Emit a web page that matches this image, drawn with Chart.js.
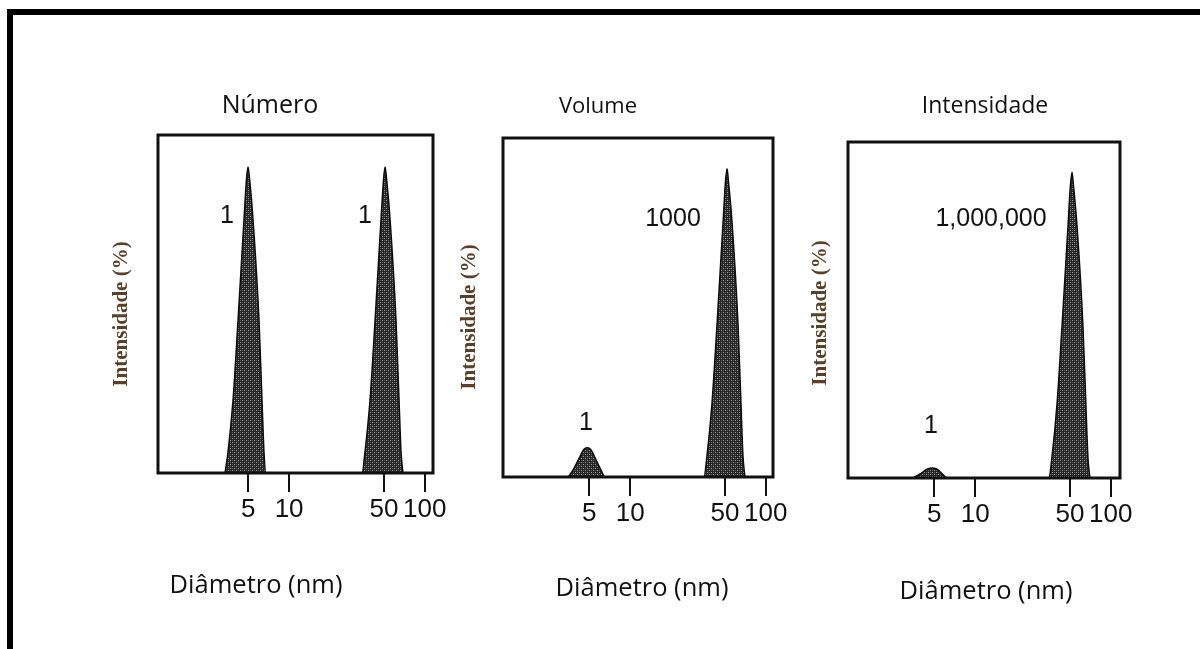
<!DOCTYPE html>
<html>
<head>
<meta charset="utf-8">
<script src="https://cdn.jsdelivr.net/npm/chart.js@4.4.1/dist/chart.umd.min.js"></script>
<style>
html, body { margin: 0; padding: 0; background: #fff; }
body { width: 1200px; height: 649px; position: relative; overflow: hidden; }
#frame { position: absolute; left: 7px; top: 9px; width: 1300px; height: 800px;
  border-top: 6px solid #000; border-left: 6px solid #000; box-sizing: border-box; }
canvas { position: absolute; top: 0; }
</style>
</head>
<body>
<div id="frame"></div>
<canvas id="c1"></canvas>
<canvas id="c2"></canvas>
<canvas id="c3"></canvas>
<script>
// tick labels on the diameter axis
const tickValues = [5, 10, 50, 100];
const panelTitles = ['Número', 'Volume', 'Intensidade'];
const yTitle = 'Intensidade (%)';
const xTitle = 'Diâmetro (nm)';

// Número: two equal peaks (5 nm and 50 nm)
const numDiam = [3.37, 3.54, 3.86, 4.20, 4.65, 4.85, 4.98, 5.11, 5.42, 6.00, 6.31, 6.53, 6.75,
                 34.5, 36.2, 39.5, 43.0, 47.6, 49.7, 51.0, 52.3, 55.5, 61.4, 64.6, 66.9, 69.1];
const numPct  = [0, 6, 21.6, 45, 75, 87, 90.5, 87, 75, 45, 21.6, 6, 0,
                 0, 6, 21.6, 45, 75, 87, 90.5, 87, 75, 45, 21.6, 6, 0];
const numNotes = ['1', '1'];

// Volume
const volDiam = [3.48, 3.79, 4.20, 4.57, 4.81, 5.15, 5.61, 6.10, 6.53,
                 35.0, 36.8, 40.1, 43.7, 48.4, 50.4, 51.8, 53.1, 56.4, 62.4, 65.6, 67.9, 70.2];
const volPct  = [0, 2, 5.5, 8.2, 8.6, 8, 5, 2, 0,
                 0, 6, 21.6, 45, 75, 87, 90.9, 87, 75, 45, 21.6, 6, 0];
const volNotes = ['1', '1000'];

// Intensidade
const intDiam = [3.48, 3.92, 4.42, 4.81, 5.24, 5.80, 6.21,
                 35.0, 36.8, 40.1, 43.7, 48.4, 50.4, 51.8, 53.1, 56.4, 62.4, 65.6, 67.9, 70.2];
const intPct  = [0, 1.2, 2.6, 3.0, 2.6, 1.0, 0,
                 0, 6, 21.6, 45, 75, 87, 91, 87, 75, 45, 21.6, 6, 0];
const intNotes = ['1', '1,000,000'];

const numFont = "'Liberation Sans', Arial, sans-serif";
const textFont = "'Open Sans', 'Noto Sans', sans-serif";

function stipple() {
    const c = document.createElement('canvas');
    c.width = 4; c.height = 4;
    const g = c.getContext('2d');
    g.fillStyle = '#262626'; g.fillRect(0, 0, 4, 4);
    g.fillStyle = '#9c9c9c'; g.fillRect(0, 0, 1, 1); g.fillRect(2, 2, 1, 1);
    g.fillStyle = '#5e5e5e'; g.fillRect(2, 0, 1, 1); g.fillRect(0, 2, 1, 1);
    return g.createPattern(c, 'repeat');
}
const fillPattern = stipple();

const panels = [
    { id: 'c1', title: panelTitles[0], titleSize: 25, titleX: 270, xTitleX: 256, xTitleY: 593,
      yTitleX: 122, yTitleY: 314, box: { l: 158, t: 135, r: 433, b: 473 }, xMin: 1.08, xMax: 115,
      diam: numDiam, pct: numPct,
      notes: [{ text: numNotes[0], x: 3.48, y: 76 }, { text: numNotes[1], x: 36.3, y: 76 }] },
    { id: 'c2', title: panelTitles[1], titleSize: 22, titleX: 598, xTitleX: 642, xTitleY: 596,
      yTitleX: 470, yTitleY: 317, box: { l: 503, t: 138, r: 773, b: 477 }, xMin: 1.155, xMax: 113,
      diam: volDiam, pct: volPct,
      notes: [{ text: volNotes[0], x: 4.73, y: 16 }, { text: volNotes[1], x: 20.7, y: 76 }] },
    { id: 'c3', title: panelTitles[2], titleSize: 23, titleX: 985, xTitleX: 986, xTitleY: 599,
      yTitleX: 821, yTitleY: 313, box: { l: 848, t: 142, r: 1120, b: 478 }, xMin: 1.155, xMax: 117,
      diam: intDiam, pct: intPct,
      notes: [{ text: intNotes[0], x: 4.73, y: 15.5 }, { text: intNotes[1], x: 13.1, y: 77 }] }
];

const LEFT_W = 80, RIGHT_PAD = 40, H = 649;

const boxPlugin = {
    id: 'boxAndText',
    afterDatasetsDraw(chart) {
        const a = chart.chartArea;
        const ctx = chart.ctx;
        ctx.save();
        ctx.strokeStyle = '#111';
        ctx.lineWidth = 3;
        ctx.strokeRect(a.left, a.top, a.right - a.left, a.bottom - a.top);
        ctx.restore();
    },
    afterDraw(chart) {
        const p = chart.options.plugins.boxAndText.panel;
        const off = p.box.l - LEFT_W;
        const ctx = chart.ctx;
        const xs = chart.scales.x, ys = chart.scales.y;
        ctx.save();
        ctx.fillStyle = '#111';
        ctx.textAlign = 'center';
        ctx.textBaseline = 'alphabetic';
        ctx.font = p.titleSize + 'px ' + textFont;
        ctx.fillText(p.title, p.titleX - off, 113);
        ctx.font = '25.5px ' + textFont;
        ctx.fillText(xTitle, p.xTitleX - off, p.xTitleY);

        ctx.textBaseline = 'middle';
        ctx.font = '25px ' + numFont;
        p.notes.forEach(n => {
            ctx.fillText(n.text, xs.getPixelForValue(n.x), ys.getPixelForValue(n.y));
        });

        ctx.translate(p.yTitleX - off, p.yTitleY);
        ctx.rotate(-Math.PI / 2);
        ctx.fillStyle = '#5b3f26';
        ctx.font = "bold 21px 'Liberation Serif', 'Times New Roman', serif";
        ctx.fillText(yTitle, 0, 0);
        ctx.restore();
    }
};

panels.forEach(p => {
    const canvas = document.getElementById(p.id);
    const w = (p.box.r - p.box.l) + LEFT_W + RIGHT_PAD;
    canvas.width = w; canvas.height = H;
    canvas.style.width = w + 'px'; canvas.style.height = H + 'px';
    canvas.style.left = (p.box.l - LEFT_W) + 'px';

    new Chart(canvas, {
        type: 'line',
        data: {
            datasets: [{
                data: p.diam.map((d, i) => ({ x: d, y: p.pct[i] })),
                borderColor: '#0d0d0d',
                borderWidth: 1.5,
                backgroundColor: fillPattern,
                fill: 'origin',
                pointRadius: 0,
                cubicInterpolationMode: 'monotone'
            }]
        },
        options: {
            responsive: false,
            animation: false,
            layout: { padding: { left: 0, right: RIGHT_PAD, top: p.box.t, bottom: 0 } },
            plugins: {
                legend: { display: false },
                tooltip: { enabled: false },
                boxAndText: { panel: p }
            },
            scales: {
                x: {
                    type: 'logarithmic',
                    min: p.xMin,
                    max: p.xMax,
                    afterBuildTicks: s => { s.ticks = tickValues.map(v => ({ value: v })); },
                    afterFit: s => { s.height = H - p.box.b; s.paddingLeft = 0; s.paddingRight = 0; },
                    border: { display: false },
                    grid: { drawOnChartArea: false, drawTicks: true, tickLength: 19, color: '#111', lineWidth: 2 },
                    ticks: {
                        autoSkip: false, maxRotation: 0, padding: 2, color: '#111',
                        font: { family: numFont, size: 26 },
                        callback: v => String(v)
                    }
                },
                y: {
                    min: 0,
                    max: 100,
                    afterFit: s => { s.width = LEFT_W; },
                    border: { display: false },
                    grid: { display: false },
                    ticks: { display: false }
                }
            }
        },
        plugins: [boxPlugin]
    });
});
</script>
</body>
</html>
